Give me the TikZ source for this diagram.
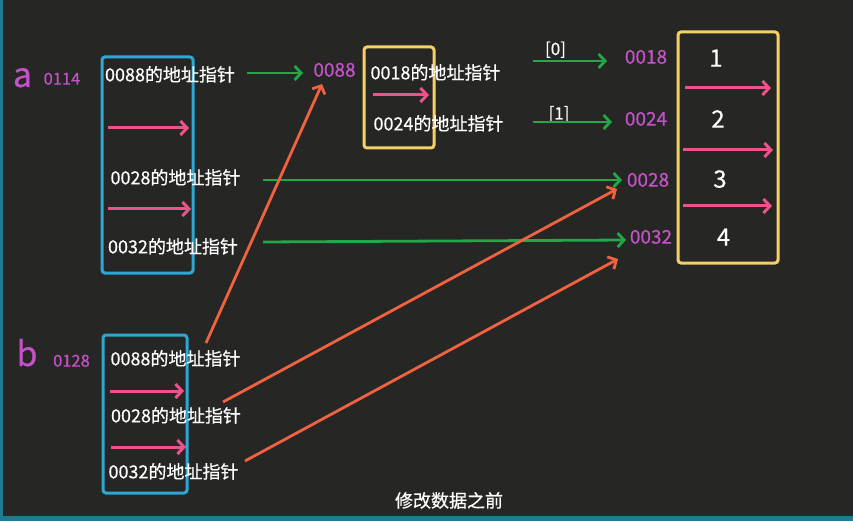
\documentclass[tikz,border=0pt]{standalone}
\usepackage{fontspec}
\setmainfont[FakeBold=0.5,BoldFont={Noto Sans CJK SC}]{Noto Sans CJK SC}
\usetikzlibrary{arrows.meta}
\definecolor{bg}{RGB}{38,38,36}
\definecolor{teal}{RGB}{34,122,142}
\definecolor{cyanbox}{RGB}{45,168,212}
\definecolor{yelbox}{RGB}{245,208,100}
\definecolor{pinkarr}{RGB}{238,82,138}
\definecolor{greenarr}{RGB}{34,168,72}
\definecolor{orangearr}{RGB}{240,98,64}
\definecolor{mag}{RGB}{196,82,200}
\tikzset{
  txt/.style={text=white, font=\fontsize{18}{21}\selectfont, inner sep=0pt, text height=0.88em, text depth=0.12em, yshift=-3.5pt},
  addr/.style={text=mag, font=\fontsize{19}{22}\selectfont, inner sep=0pt, text height=0.73em, text depth=0pt, yshift=-3pt},
  addrs/.style={text=mag, font=\fontsize{16.5}{19}\selectfont, inner sep=0pt, text height=0.73em, text depth=0pt, yshift=-3pt},
  num/.style={text=white, font=\fontsize{24}{27}\selectfont, inner sep=0pt, text height=0.73em, text depth=0pt, yshift=-5pt},
  idx/.style={text=white, font=\fontsize{17}{20}\selectfont, inner sep=0pt, text height=0.8em, text depth=0.2em, yshift=-4pt},
  big/.style={text=mag, font=\fontsize{34}{40}\selectfont, inner sep=0pt, anchor=base},
  cbox/.style={draw=cyanbox, line width=3pt, rounded corners=3pt, inner sep=0pt, outer sep=0pt},
  ybox/.style={draw=yelbox, line width=3pt, rounded corners=3pt, inner sep=0pt, outer sep=0pt},
  tip/.style={-{Straight Barb[length=6.5pt,width=14pt]}},
  parr/.style={draw=pinkarr, line width=3pt, tip},
  garr/.style={draw=greenarr, line width=2.8pt, tip},
  oarr/.style={draw=orangearr, line width=2.8pt, tip},
}
\begin{document}
\begin{tikzpicture}[x=1pt,y=-1pt]
\fill[bg] (0,0) rectangle (853,521);
\useasboundingbox (0,0) rectangle (853,521);
\fill[teal] (0,0) rectangle (2.5,521);
\fill[teal] (0,516) rectangle (853,521);

% boxes
\node[cbox, minimum width=91, minimum height=216] (boxA) at (147.5,165) {};
\node[cbox, minimum width=84, minimum height=158] (boxB) at (145,414) {};
\node[ybox, minimum width=70, minimum height=101] (boxM) at (399,97.5) {};
\node[ybox, minimum width=100, minimum height=231] (boxR) at (728,147.5) {};

% variable labels
\node[big] (va) at (22.5,87) {a};
\node[addrs] (va0) at (62,78) {0114};
\node[big] (vb) at (27,366) {b};
\node[addrs] (vb0) at (71.5,360) {0128};

% texts in a
\node[txt] (a1) at (170,74) {0088的地址指针};
\node[txt] (a2) at (175.5,177) {0028的地址指针};
\node[txt] (a3) at (173,246) {0032的地址指针};
% texts in b
\node[txt] (b1) at (175.5,358) {0088的地址指针};
\node[txt] (b2) at (176,415) {0028的地址指针};
\node[txt] (b3) at (173.5,471) {0032的地址指针};
% middle
\node[addr] (l0088) at (334.5,70) {0088};
\node[txt] (m1) at (435.5,72) {0018的地址指针};
\node[txt] (m2) at (438.5,123) {0024的地址指针};
\node[idx] (i0) at (555.5,48) {[0]};
\node[idx] (i1) at (559,112.5) {[1]};
% addresses right
\node[addr] (l0018) at (646,57) {0018};
\node[addr] (l0024) at (646,119) {0024};
\node[addr] (l0028) at (648,180) {0028};
\node[addr] (l0032) at (651,237) {0032};
% values
\node[num] (v1) at (716,58) {1};
\node[num] (v2) at (718,119) {2};
\node[num] (v3) at (720,179) {3};
\node[num] (v4) at (723.5,237) {4};
% caption
\node[txt] (cap) at (449,500) {修改数据之前};

% pink arrows (internal pointers)
\coordinate (pa1s) at (108,128); \coordinate (pa1e) at (189,128);
\coordinate (pa2s) at (108,209); \coordinate (pa2e) at (191,209);
\coordinate (pb1s) at (110,391); \coordinate (pb1e) at (184,391);
\coordinate (pb2s) at (111,447); \coordinate (pb2e) at (186,447);
\coordinate (pm1s) at (373,95);  \coordinate (pm1e) at (429,95);
\coordinate (pr1s) at (685,88);  \coordinate (pr1e) at (771,88);
\coordinate (pr2s) at (683,150); \coordinate (pr2e) at (773,150);
\coordinate (pr3s) at (683,206); \coordinate (pr3e) at (772,206);
\foreach \p in {pa1,pa2,pb1,pb2,pm1,pr1,pr2,pr3}
  \draw[parr] (\p s) -- (\p e);

% green arrows
\coordinate (g1s) at (247,73);  \coordinate (g1e) at (303,73);
\coordinate (g2s) at (263,180); \coordinate (g2e) at (622,180);
\coordinate (g3s) at (263,242); \coordinate (g3e) at (626,240);
\coordinate (g4s) at (533,61);  \coordinate (g4e) at (607,61);
\coordinate (g5s) at (533,122); \coordinate (g5e) at (612,122);
\foreach \g in {g1,g2,g3,g4,g5}
  \draw[garr] (\g s) -- (\g e);

% orange arrows
\coordinate (o1s) at (206,343); \coordinate (o1e) at (322,84);
\coordinate (o2s) at (223,402); \coordinate (o2e) at (617,189);
\coordinate (o3s) at (245,461); \coordinate (o3e) at (618,259);
\foreach \o in {o1,o2,o3}
  \draw[oarr] (\o s) -- (\o e);
\end{tikzpicture}
\end{document}
